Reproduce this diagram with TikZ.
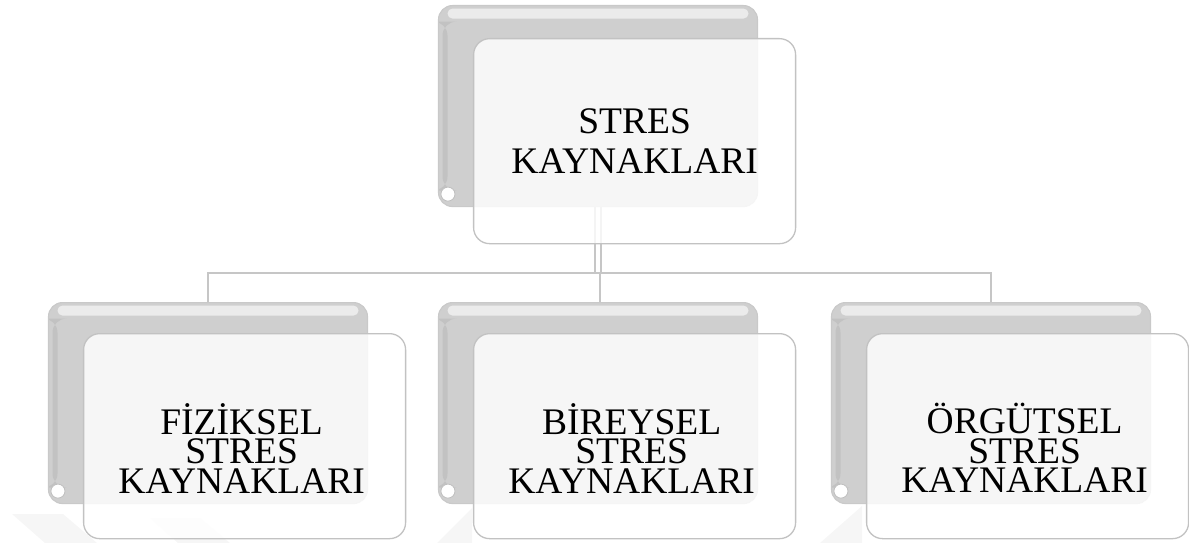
\documentclass[tikz,border=0pt]{standalone}
\usepackage{fontspec}
\setmainfont{Liberation Serif}
\usetikzlibrary{positioning}
\tikzset{
  backbox/.style={draw=gray!42, line width=1.1pt, fill=gray!38,
    rounded corners=14pt, minimum width=319pt, minimum height=201pt,
    inner sep=0pt, anchor=north,
    path picture={
      \fill[white, opacity=.6, rounded corners=5pt]
        ([shift={(9pt,-3pt)}]path picture bounding box.north west) rectangle
        ([shift={(-9pt,-13pt)}]path picture bounding box.north east);
      \fill[gray!48]
        ([shift={(4pt,-16pt)}]path picture bounding box.north west) rectangle
        ([shift={(9pt,16pt)}]path picture bounding box.south west);
    }},
  frontbox/.style={draw=gray!48, line width=1.3pt, fill=white, fill opacity=.82,
    text opacity=1, rounded corners=16pt, minimum width=322pt,
    minimum height=205pt, inner sep=0pt, anchor=north west},
  curl/.style={draw=gray!50, line width=.8pt, fill=white},
  label/.style={font=\fontsize{37.5}{29.5}\selectfont, align=center, inner sep=0pt},
  toplabel/.style={font=\fontsize{37.5}{40}\selectfont, align=center, inner sep=0pt},
  conn/.style={draw=gray!45, line width=1.8pt},
  faint/.style={fill=gray!7, draw=none}
}
\begin{document}
\begin{tikzpicture}[x=1pt, y=-1pt]
\useasboundingbox (0,0) rectangle (1189,543);

% pale marks along the lower edge
\fill[faint] (12,514) -- (63,514) -- (97,543) -- (45,543) -- cycle;
\fill[faint] (150,518) -- (200,518) -- (230,543) -- (178,543) -- cycle;
\fill[faint] (437,543) -- (472,508) -- (472,543) -- cycle;
\fill[faint] (820,543) -- (862,506) -- (862,543) -- cycle;

% junction point of the tree
\coordinate (hub) at (600,273);

% back plates
\node[backbox] (tb) at (598,5) {};
\node[backbox] (lb) at (208,302) {};
\node[backbox] (mb) at (598,302) {};
\node[backbox] (rb) at (991,302) {};

% connectors
\draw[conn] ([xshift=-3pt]tb.south) -- ([xshift=-3pt]tb.south |- hub);
\draw[conn] ([xshift=3pt]tb.south) -- ([xshift=3pt]tb.south |- hub);
\draw[conn] (lb.north) -- (lb.north |- hub) -- (rb.north |- hub) -- (rb.north);
\draw[conn] (hub) -- (hub |- mb.north);

% small scroll curls on the back plates
\foreach \b in {tb,lb,mb,rb}
  \draw[curl] ([shift={(10pt,13pt)}]\b.south west) circle (7pt);

% front cards
\node[frontbox] (tf) at ([xshift=35pt,yshift=-33pt]tb.north west) {};
\node[frontbox] (lf) at ([xshift=35pt,yshift=-31pt]lb.north west) {};
\node[frontbox] (mf) at ([xshift=35pt,yshift=-31pt]mb.north west) {};
\node[frontbox] (rf) at ([xshift=35pt,yshift=-31pt]rb.north west) {};

% labels
\node[toplabel] (tt) at (tf.center) {STRES\\KAYNAKLARI};
\node[label] (lt) at ([xshift=-3pt,yshift=-12pt]lf.center) {FİZİKSEL\\STRES\\KAYNAKLARI};
\node[label] (mt) at ([xshift=-3pt,yshift=-12pt]mf.center) {BİREYSEL\\STRES\\KAYNAKLARI};
\node[label] (rt) at ([xshift=-3pt,yshift=-12pt]rf.center) {ÖRGÜTSEL\\STRES\\KAYNAKLARI};
\end{tikzpicture}
\end{document}
